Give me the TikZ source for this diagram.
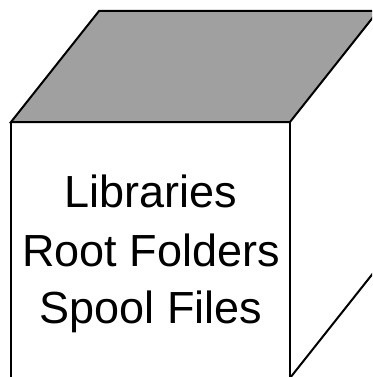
\documentclass[tikz,border=0pt]{standalone}
\usepackage{fontspec}
\setmainfont{Liberation Sans}
\definecolor{topgray}{RGB}{160,160,160}
\tikzset{
  edge/.style={draw=black,line width=2pt,line join=miter},
  word/.style={anchor=base,inner sep=0pt,font=\fontsize{45}{58}\selectfont}
}

\begin{document}
\begin{tikzpicture}[x=1pt,y=-1pt]
    \useasboundingbox (0,0) rectangle (372,377);
    \clip (0,0) rectangle (372,377);
    % corners of the cube
    \coordinate (fl) at (11,122);
    \coordinate (fr) at (290,122);
    \coordinate (bl) at (99,11);
    \coordinate (br) at (378,11);
    \coordinate (dl) at (11,378);
    \coordinate (dr) at (290,378);
    \coordinate (db) at (378,267);
    % top face
    \draw[edge,fill=topgray] (fl) -- (bl) -- (br) -- (fr) -- cycle;
    % front and side faces
    \draw[edge] (fl) -- (dl);
    \draw[edge] (fr) -- (dr);
    \draw[edge] (dr) -- (db);
    \node[word] (lib) at (151,207.5) {Libraries};
    \node[word] (root) at (151,266.5) {Root Folders};
    \node[word] (spool) at (151,323.5) {Spool Files};
  \end{tikzpicture}
\end{document}
